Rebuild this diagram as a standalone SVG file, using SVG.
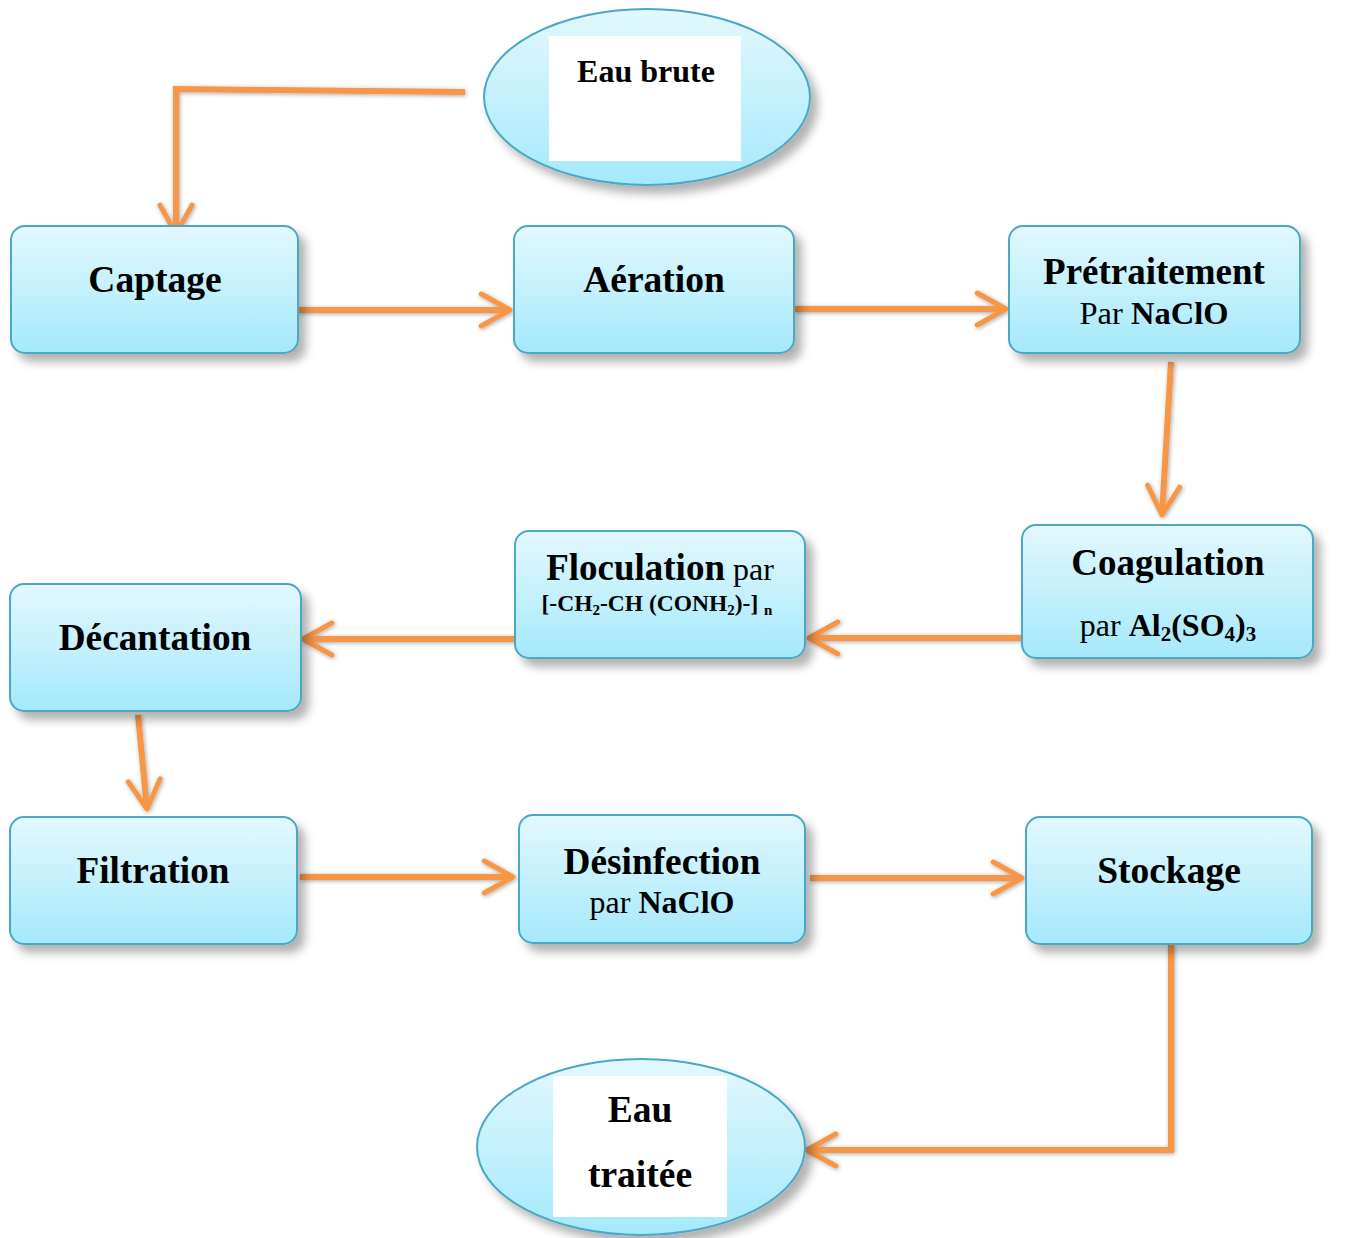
<svg xmlns="http://www.w3.org/2000/svg" width="1362" height="1238" viewBox="0 0 1362 1238">
<style>
.box{fill:url(#g);stroke:#4aa8c4;stroke-width:2;filter:url(#sh)}
.t{font-family:"Liberation Serif","Times New Roman",serif;fill:#000;text-anchor:middle}
.b{font-weight:bold}
.c{fill:none;stroke:#f79646;stroke-width:6;marker-end:url(#ah)}
</style>
<defs>
<linearGradient id="g" x1="0" y1="0" x2="0" y2="1">
<stop offset="0" stop-color="#e3f8fe"/>
<stop offset="1" stop-color="#a5e9fb"/>
</linearGradient>
<filter id="sh" x="-10%" y="-10%" width="130%" height="140%">
<feDropShadow dx="7" dy="8" stdDeviation="5" flood-color="#000" flood-opacity="0.3"/>
</filter>
<filter id="lsh" x="-10%" y="-10%" width="130%" height="140%">
<feDropShadow dx="1" dy="1" stdDeviation="2" flood-color="#000" flood-opacity="0.35"/>
</filter>
<marker id="ah" viewBox="0 0 12 12" refX="10.5" refY="6" markerWidth="6.4" markerHeight="6.4" orient="auto" markerUnits="strokeWidth">
<path d="M1.5,1 L10.5,6 L1.5,11" fill="none" stroke="#f79646" stroke-width="1.55" stroke-linecap="round" stroke-linejoin="round"/>
</marker>
</defs>

<g id="connectors" filter="url(#lsh)">
<path class="c" d="M465,92 L176,89 L176,234"/>
<path class="c" d="M298,310 L510,310"/>
<path class="c" d="M794,309 L1006,309"/>
<path class="c" d="M1171,362 L1162,515"/>
<path class="c" d="M1022,638 L809,638"/>
<path class="c" d="M515,639 L303,639"/>
<path class="c" d="M138,715 L147,809"/>
<path class="c" d="M300,877 L513,877"/>
<path class="c" d="M810,878 L1022,878"/>
<path class="c" d="M1171,944 L1171,1150 L807,1150"/>
</g>

<g id="eau-brute">
<ellipse class="box" cx="647" cy="97" rx="163" ry="88"/>
<rect x="549" y="36" width="192" height="125" fill="#fff"/>
<text class="t b" x="646" y="82" font-size="32">Eau brute</text>
</g>

<g id="captage">
<rect class="box" x="11" y="226" width="287" height="127" rx="14"/>
<text class="t b" x="155" y="292" font-size="37.5">Captage</text>
</g>

<g id="aeration">
<rect class="box" x="514" y="226" width="280" height="127" rx="14"/>
<text class="t b" x="654" y="292" font-size="37.5">Aération</text>
</g>

<g id="pretraitement">
<rect class="box" x="1009" y="226" width="291" height="127" rx="14"/>
<text class="t b" x="1154" y="284" font-size="37">Prétraitement</text>
<text class="t" x="1154" y="324" font-size="32.5">Par <tspan class="b">NaClO</tspan></text>
</g>

<g id="coagulation">
<rect class="box" x="1022" y="525" width="291" height="133" rx="14"/>
<text class="t b" x="1168" y="575" font-size="37">Coagulation</text>
<text class="t" x="1168" y="636" font-size="32">par <tspan class="b">Al<tspan font-size="21" dy="5">2</tspan><tspan dy="-5">(SO</tspan><tspan font-size="21" dy="5">4</tspan><tspan dy="-5">)</tspan><tspan font-size="21" dy="5">3</tspan></tspan></text>
</g>

<g id="floculation">
<rect class="box" x="515" y="531" width="290" height="127" rx="14"/>
<text class="t" x="660" y="580" font-size="32"><tspan class="b" font-size="37">Floculation</tspan> par</text>
<text class="t b" x="657" y="611" font-size="23.5">[-CH<tspan font-size="15" dy="4">2</tspan><tspan dy="-4">-CH (CONH</tspan><tspan font-size="15" dy="4">2</tspan><tspan dy="-4">)-] </tspan><tspan font-size="15" dy="4">n</tspan></text>
</g>

<g id="decantation">
<rect class="box" x="10" y="584" width="291" height="127" rx="14"/>
<text class="t b" x="155" y="650" font-size="37.3">Décantation</text>
</g>

<g id="filtration">
<rect class="box" x="10" y="817" width="287" height="127" rx="14"/>
<text class="t b" x="153" y="883" font-size="37.2">Filtration</text>
</g>

<g id="desinfection">
<rect class="box" x="519" y="815" width="286" height="128" rx="14"/>
<text class="t b" x="662" y="874" font-size="37.3">Désinfection</text>
<text class="t" x="662" y="913" font-size="32">par <tspan class="b">NaClO</tspan></text>
</g>

<g id="stockage">
<rect class="box" x="1026" y="817" width="286" height="127" rx="14"/>
<text class="t b" x="1169" y="883" font-size="37.5">Stockage</text>
</g>

<g id="eau-traitee">
<ellipse class="box" cx="641" cy="1147" rx="164" ry="88"/>
<rect x="553" y="1076" width="174" height="141" fill="#fff"/>
<text class="t b" x="640" y="1122" font-size="37.5">Eau</text>
<text class="t b" x="640" y="1187" font-size="37.5">traitée</text>
</g>
</svg>
